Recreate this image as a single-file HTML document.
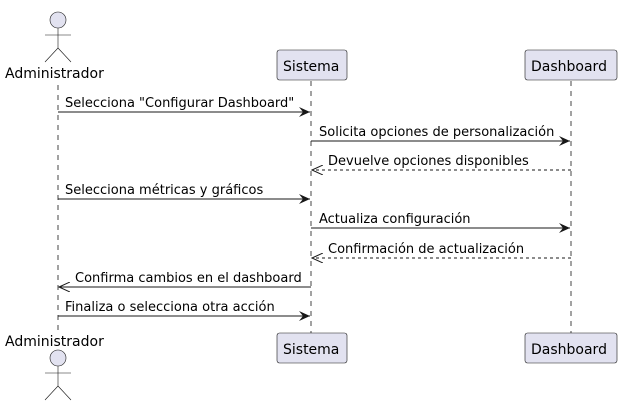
<!DOCTYPE html>
<html><head><style>body{margin:0;background:#fff}svg text{font-family:"DejaVu Sans","Liberation Sans",sans-serif;font-size:13px;fill:#000}svg text.p{font-size:14px}</style></head><body>
<svg width="620" height="414" viewBox="0 0 620 414" xmlns="http://www.w3.org/2000/svg">
<defs><marker id="a" markerWidth="12" markerHeight="10" refX="11" refY="5" orient="auto" markerUnits="userSpaceOnUse"><path d="M0,0 L11,5 L0,10 L4,5 Z" fill="#181818"/></marker>
<marker id="o" markerWidth="12" markerHeight="10" refX="11" refY="5" orient="auto" markerUnits="userSpaceOnUse"><path d="M0,0 L11,5 L0,10" fill="none" stroke="#181818" stroke-width="1"/></marker></defs>
<g stroke="#181818" stroke-dasharray="5,5" stroke-width="0.8"><line x1="58" y1="85" x2="58" y2="330"/><line x1="311" y1="81" x2="311" y2="333"/><line x1="571" y1="81" x2="571" y2="333"/></g>
<g fill="#e2e2f0" stroke="#181818" stroke-width="0.6">
<circle cx="58" cy="20" r="8"/><circle cx="58" cy="358" r="8"/>
<rect x="277" y="50" width="70" height="30" rx="2.5"/><rect x="525" y="50" width="92" height="30" rx="2.5"/>
<rect x="277" y="333" width="70" height="30" rx="2.5"/><rect x="525" y="333" width="92" height="30" rx="2.5"/></g>
<g stroke="#181818" stroke-width="0.6" fill="none">
<path d="M58,28V48M45,35H71M45,62L58,48L71,62"/><path d="M58,366V386M45,373H71M45,400L58,386L71,400"/></g>
<text class="p" x="5" y="78">Administrador</text><text class="p" x="5" y="346">Administrador</text>
<text class="p" x="283" y="71">Sistema</text><text class="p" x="531" y="71">Dashboard</text>
<text class="p" x="283" y="354">Sistema</text><text class="p" x="531" y="354">Dashboard</text>
<g stroke="#181818" stroke-width="1">
<line x1="58" y1="112" x2="310" y2="112" marker-end="url(#a)"/>
<line x1="311" y1="141" x2="570" y2="141" marker-end="url(#a)"/>
<line x1="571" y1="170" x2="312" y2="170" stroke-dasharray="3,3" marker-end="url(#o)"/>
<line x1="58" y1="199" x2="310" y2="199" marker-end="url(#a)"/>
<line x1="311" y1="228" x2="570" y2="228" marker-end="url(#a)"/>
<line x1="571" y1="258" x2="312" y2="258" stroke-dasharray="3,3" marker-end="url(#o)"/>
<line x1="311" y1="287" x2="59" y2="287" marker-end="url(#o)"/>
<line x1="58" y1="316" x2="310" y2="316" marker-end="url(#a)"/></g>
<text x="65" y="107">Selecciona "Configurar Dashboard"</text>
<text x="319" y="136">Solicita opciones de personalización</text>
<text x="328" y="165">Devuelve opciones disponibles</text>
<text x="65" y="194">Selecciona métricas y gráficos</text>
<text x="319" y="223">Actualiza configuración</text>
<text x="328" y="253">Confirmación de actualización</text>
<text x="75" y="282">Confirma cambios en el dashboard</text>
<text x="65" y="311">Finaliza o selecciona otra acción</text>
</svg></body></html>
